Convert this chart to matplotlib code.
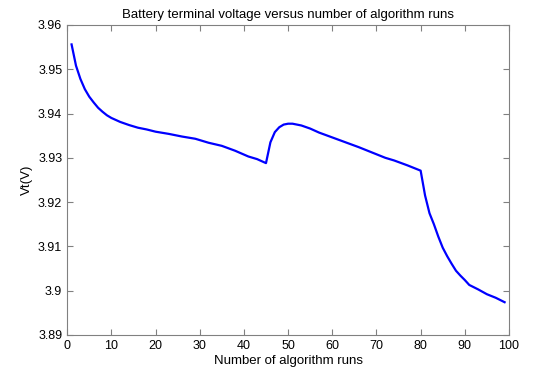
import matplotlib.pyplot as plt
import numpy as np

plt.rcParams['font.family'] = ['Liberation Sans', 'DejaVu Sans']

runs = [1, 2, 3, 4, 5, 6, 7, 8, 9, 10, 12, 14, 16, 18, 20, 23, 26, 29, 32, 35,
        38, 41, 43, 45, 46, 47, 48, 49, 50, 51, 53, 55, 57, 60, 63, 66, 69, 72,
        74, 77, 80, 81, 82, 83, 84, 85, 86, 87, 88, 89, 90, 91, 93, 95, 97, 99]
vt = [3.9556, 3.9508, 3.9478, 3.9455, 3.9438, 3.9425, 3.9413, 3.9404, 3.9396,
      3.9390, 3.9381, 3.9374, 3.9368, 3.9364, 3.9359, 3.9354, 3.9348, 3.9343,
      3.9334, 3.9327, 3.9316, 3.9303, 3.9297, 3.9288, 3.9335, 3.9358, 3.9369,
      3.9375, 3.9377, 3.9377, 3.9373, 3.9366, 3.9357, 3.9346, 3.9335, 3.9324,
      3.9312, 3.9300, 3.9294, 3.9283, 3.9271, 3.9215, 3.9175, 3.9150, 3.9122,
      3.9097, 3.9078, 3.9061, 3.9045, 3.9034, 3.9024, 3.9013, 3.9003, 3.8992,
      3.8984, 3.8974]

fig = plt.figure(figsize=(5.33, 3.72), dpi=100)
ax = fig.add_axes([0.126, 0.0995, 0.829, 0.8335])
ax.plot(runs, vt, color='#0000ff', lw=1.6)

ax.set_xlim(0, 100)
ax.set_ylim(3.89, 3.96)
ax.set_xticks(np.arange(0, 101, 10))
ax.set_yticks([3.89, 3.9, 3.91, 3.92, 3.93, 3.94, 3.95, 3.96])
ax.set_yticklabels(['3.89', '3.9', '3.91', '3.92', '3.93', '3.94', '3.95', '3.96'])
ax.tick_params(direction='in', top=True, right=True, length=4, colors='#808080',
               labelcolor='black', labelsize=9)
for s in ax.spines.values():
    s.set_color('#808080')

ax.set_title('Battery terminal voltage versus number of algorithm runs', fontsize=9.5, pad=5)
ax.set_xlabel('Number of algorithm runs', fontsize=9.5, labelpad=2)
ax.set_ylabel('Vt(V)', fontsize=9.5)

fig.savefig('out.png', dpi=100)
